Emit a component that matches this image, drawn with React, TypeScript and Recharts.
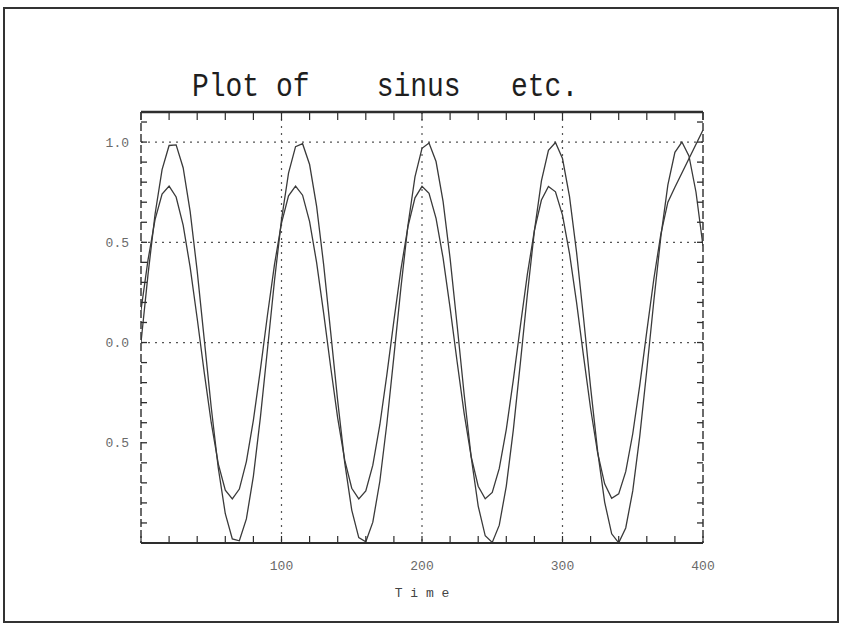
import React from 'react';
import { LineChart, Line, XAxis, YAxis, CartesianGrid } from 'recharts';

const timeValues = [
  0, 5, 10, 15, 20, 25, 30, 35, 40, 45, 50, 55, 60, 65, 70, 75, 80, 85, 90, 95,
  100, 105, 110, 115, 120, 125, 130, 135, 140, 145, 150, 155, 160, 165, 170, 175, 180, 185, 190, 195,
  200, 205, 210, 215, 220, 225, 230, 235, 240, 245, 250, 255, 260, 265, 270, 275, 280, 285, 290, 295,
  300, 305, 310, 315, 320, 325, 330, 335, 340, 345, 350, 355, 360, 365, 370, 375, 380, 385, 390, 395,
  400,
];

const sinusA = [
  0, 0.34, 0.64, 0.863, 0.983, 0.986, 0.872, 0.653, 0.356, 0.017,
  -0.324, -0.626, -0.854, -0.98, -0.989, -0.88, -0.666, -0.372, -0.035, 0.308,
  0.613, 0.845, 0.977, 0.992, 0.888, 0.679, 0.389, 0.052, -0.291, -0.599,
  -0.836, -0.973, -0.994, -0.896, -0.692, -0.404, -0.069, 0.274, 0.585, 0.826,
  0.969, 0.995, 0.903, 0.704, 0.42, 0.086, -0.258, -0.571, -0.816, -0.964,
  -0.997, -0.911, -0.716, -0.436, -0.103, 0.241, 0.557, 0.806, 0.959, 0.998,
  0.918, 0.728, 0.451, 0.121, -0.224, -0.542, -0.796, -0.954, -0.999, -0.925,
  -0.74, -0.467, -0.138, 0.207, 0.528, 0.786, 0.949, 1.0, 0.931, 0.751,
  0.482,
];

const sinusB: (number | null)[] = [
  0.162, 0.412, 0.613, 0.74, 0.78, 0.726, 0.586, 0.375, 0.12, -0.149,
  -0.4, -0.605, -0.736, -0.78, -0.731, -0.594, -0.387, -0.134, 0.136, 0.389,
  0.596, 0.732, 0.78, 0.735, 0.603, 0.399, 0.147, -0.122, -0.377, -0.587,
  -0.727, -0.78, -0.74, -0.612, -0.41, -0.16, 0.109, 0.365, 0.578, 0.722,
  0.779, 0.744, 0.619, 0.422, 0.173, -0.096, -0.353, -0.569, -0.717, -0.779,
  -0.748, -0.628, -0.433, -0.186, 0.082, 0.341, 0.559, 0.711, 0.778, 0.752,
  0.636, 0.444, 0.2, -0.069, -0.329, -0.551, -0.705, -0.777, -0.755, -0.644,
  -0.455, -0.212, 0.056, 0.317, 0.541, 0.7, 0.775, null, null, null,
  1.06,
];

const xTicks = [0, 20, 40, 60, 80, 100, 120, 140, 160, 180, 200, 220, 240, 260, 280, 300, 320, 340, 360, 380, 400];
const xTickLabels: Record<number, string> = { 100: '100', 200: '200', 300: '300', 400: '400' };

const yTicks = [
  -1.0, -0.9, -0.8, -0.7, -0.6, -0.5, -0.4, -0.3, -0.2, -0.1,
  0.0, 0.1, 0.2, 0.3, 0.4, 0.5, 0.6, 0.7, 0.8, 0.9, 1.0, 1.1,
];
const yTickLabels: Record<number, string> = { 10: '1.0', 5: '0.5', 0: '0.0', [-5]: '0.5' };

const gridX = [100, 200, 300];
const gridY = [0, 0.5, 1];

const titleText = 'Plot of    sinus   etc.';
const xAxisTitle = 'T i m e';

const data = timeValues.map((t, i) => ({ t, a: sinusA[i], b: sinusB[i] }));

const INK = '#2e2e2e';
const LABEL = '#6a6a6a';
const MONO = '"Liberation Mono", "DejaVu Sans Mono", monospace';

const BottomTick = (props: any) => {
  const { x, y, payload } = props;
  const label = xTickLabels[payload.value];
  return (
    <g>
      <line x1={x} x2={x} y1={y} y2={y - 7} stroke={INK} strokeWidth={1.2} />
      {label ? (
        <text x={x} y={y + 27} textAnchor="middle" fontSize={13} fontFamily={MONO} fill={LABEL}>
          {label}
        </text>
      ) : null}
    </g>
  );
};

const TopTick = (props: any) => {
  const { x, y } = props;
  return <line x1={x} x2={x} y1={y} y2={y + 8} stroke={INK} strokeWidth={1.2} />;
};

const LeftTick = (props: any) => {
  const { x, y, payload } = props;
  const label = yTickLabels[Math.round(payload.value * 10)];
  return (
    <g>
      <line x1={x} x2={x + 6} y1={y} y2={y} stroke={INK} strokeWidth={1.3} />
      {label ? (
        <text x={x - 12} y={y + 4.5} textAnchor="end" fontSize={13} fontFamily={MONO} fill={LABEL}>
          {label}
        </text>
      ) : null}
    </g>
  );
};

const RightTick = (props: any) => {
  const { x, y } = props;
  return <line x1={x} x2={x - 6} y1={y} y2={y} stroke={INK} strokeWidth={1.3} />;
};

export default function App() {
  return (
    <div style={{ position: 'absolute', left: 0, top: 0, width: 842, height: 628, background: '#fff' }}>
      <LineChart
        width={842}
        height={628}
        data={data}
        margin={{ top: 111, right: 138, bottom: 84, left: 140 }}
      >
        <CartesianGrid
          xAxisId="b"
          yAxisId="l"
          horizontal
          vertical
          horizontalValues={gridY}
          verticalValues={gridX}
          stroke="#555"
          strokeWidth={1.2}
          strokeDasharray="2 5"
        />
        <XAxis
          xAxisId="b"
          dataKey="t"
          type="number"
          domain={[0, 400]}
          ticks={xTicks}
          interval={0}
          height={1}
          tickSize={0}
          tickMargin={0}
          tickLine={false}
          tick={<BottomTick />}
          axisLine={{ stroke: INK, strokeWidth: 2 }}
          allowDataOverflow
        />
        <XAxis
          xAxisId="t"
          orientation="top"
          dataKey="t"
          type="number"
          domain={[0, 400]}
          ticks={xTicks}
          interval={0}
          height={1}
          tickSize={0}
          tickMargin={0}
          tickLine={false}
          tick={<TopTick />}
          axisLine={{ stroke: INK, strokeWidth: 2.5 }}
          allowDataOverflow
        />
        <YAxis
          yAxisId="l"
          type="number"
          domain={[-1, 1.15]}
          ticks={yTicks}
          interval={0}
          width={1}
          tickSize={0}
          tickMargin={0}
          tickLine={false}
          tick={<LeftTick />}
          axisLine={{ stroke: '#3a3a3a', strokeWidth: 1.5, strokeDasharray: '8 3' }}
          allowDataOverflow
        />
        <YAxis
          yAxisId="r"
          orientation="right"
          type="number"
          domain={[-1, 1.15]}
          ticks={yTicks}
          interval={0}
          width={1}
          tickSize={0}
          tickMargin={0}
          tickLine={false}
          tick={<RightTick />}
          axisLine={{ stroke: '#3a3a3a', strokeWidth: 1.5, strokeDasharray: '8 3' }}
          allowDataOverflow
        />
        <Line
          xAxisId="t"
          yAxisId="r"
          dataKey="a"
          stroke="transparent"
          dot={false}
          activeDot={false}
          isAnimationActive={false}
        />
        <Line
          xAxisId="b"
          yAxisId="l"
          type="linear"
          dataKey="a"
          stroke="#3a3a3a"
          strokeWidth={1.3}
          dot={false}
          activeDot={false}
          isAnimationActive={false}
        />
        <Line
          xAxisId="b"
          yAxisId="l"
          type="linear"
          dataKey="b"
          stroke="#3a3a3a"
          strokeWidth={1.3}
          dot={false}
          activeDot={false}
          connectNulls
          isAnimationActive={false}
        />
      </LineChart>
      <svg
        width={842}
        height={628}
        style={{ position: 'absolute', left: 0, top: 0, pointerEvents: 'none' }}
      >
        <rect x={4} y={8} width={834} height={614} fill="none" stroke="#333" strokeWidth={2} />
        <text
          transform="translate(192,96) scale(1,1.2)"
          x={0}
          y={0}
          fontSize={28}
          fontFamily={MONO}
          fill="#1e1e1e"
          style={{ whiteSpace: 'pre' }}
        >
          {titleText}
        </text>
        <text
          x={422}
          y={597}
          textAnchor="middle"
          fontSize={13}
          fontFamily={MONO}
          fill="#444"
          style={{ whiteSpace: 'pre' }}
        >
          {xAxisTitle}
        </text>
      </svg>
    </div>
  );
}
